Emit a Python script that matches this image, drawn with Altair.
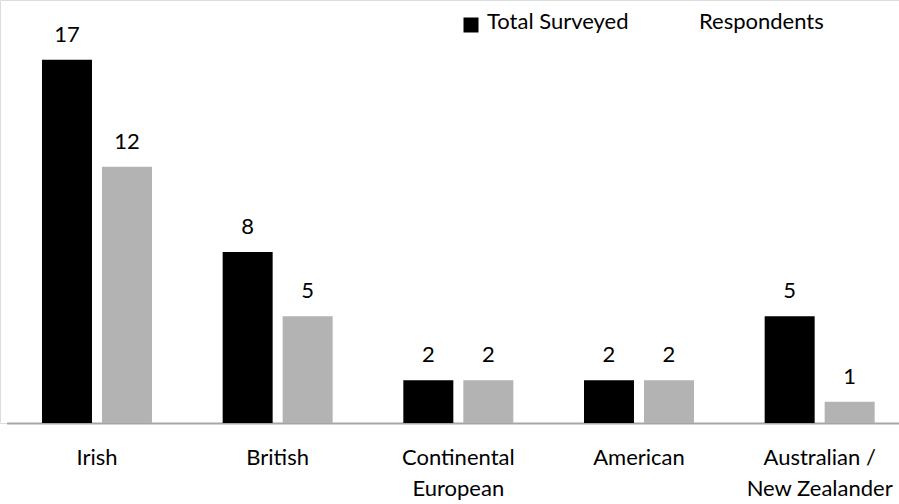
import altair as alt
import pandas as pd

categories = ["Irish", "British", "Continental\nEuropean", "American", "Australian /\nNew Zealander"]
series = ["Total Surveyed", "Respondents"]
total_surveyed = [17, 8, 2, 2, 5]
respondents = [12, 5, 2, 2, 1]
colors = ["#000000", "#b3b3b3"]

rows = []
for c, t, r in zip(categories, total_surveyed, respondents):
    rows.append({"category": c, "series": series[0], "value": t})
    rows.append({"category": c, "series": series[1], "value": r})
df = pd.DataFrame(rows)

FONT = "Lato"

x = alt.X(
    "category:N",
    sort=categories,
    scale=alt.Scale(range=[6.65, 910], paddingInner=0, paddingOuter=0),
    axis=alt.Axis(
        title=None,
        labelAngle=0,
        ticks=False,
        labelFont=FONT,
        labelFontSize=22,
        labelColor="#000000",
        labelPadding=24,
        labelLineHeight=31,
        labelExpr="split(datum.label, '\\n')",
        domainColor="#a6a6a6",
        domainWidth=2,
    ),
)
xoff = alt.XOffset(
    "series:N",
    sort=series,
    scale=alt.Scale(paddingInner=1 / 6, paddingOuter=0.589),
)
y = alt.Y("value:Q", scale=alt.Scale(domain=[0, 19.8], nice=False), axis=None)
color = alt.Color("series:N", scale=alt.Scale(domain=series, range=colors), legend=None)

base = alt.Chart(df)
bars = base.mark_bar().encode(x=x, xOffset=xoff, y=y, color=color)
labels = base.mark_text(
    font=FONT, fontSize=22, dy=-25, baseline="middle", color="#000000"
).encode(x=x, xOffset=xoff, y=y, text="value:Q")

legend_df = pd.DataFrame({"series": series})
leg_sq = alt.Chart(legend_df).transform_filter(
    alt.datum.series == series[0]
).mark_square(size=225, opacity=1, color="#000000").encode(
    x=alt.value(471), y=alt.value(25)
)
leg_t1 = alt.Chart(legend_df).transform_filter(
    alt.datum.series == series[0]
).mark_text(align="left", baseline="middle", font=FONT, fontSize=22, color="#000000").encode(
    x=alt.value(487), y=alt.value(22), text="series:N"
)
leg_t2 = alt.Chart(legend_df).transform_filter(
    alt.datum.series == series[1]
).mark_text(align="left", baseline="middle", font=FONT, fontSize=22, color="#000000").encode(
    x=alt.value(699), y=alt.value(22), text="series:N"
)

chart = (
    alt.layer(bars, labels, leg_sq, leg_t1, leg_t2)
    .properties(
        width=899,
        height=423,
        autosize=alt.AutoSizeParams(type="none"),
        padding={"left": 0, "top": 0, "right": 0, "bottom": 81},
    )
    .configure_view(stroke=None)
    .configure(background="#ffffff")
)

chart.save("out.html", embed_options={"renderer": "svg", "actions": False})
